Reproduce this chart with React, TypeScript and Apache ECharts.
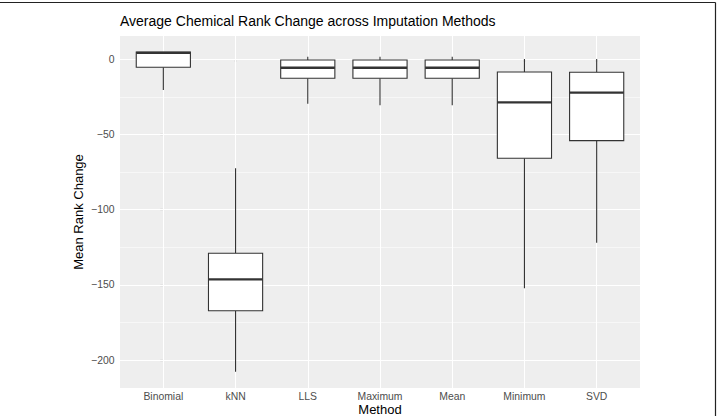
import React, { useEffect, useRef } from "react";
import * as echarts from "echarts";

// Imputation methods along the x axis
const methods = ["Binomial", "kNN", "LLS", "Maximum", "Mean", "Minimum", "SVD"];

// Five-number summaries of the mean rank change per method
const lowerWhisker = [-20.4, -207.8, -29.5, -30.6, -30.6, -152.3, -122.0];
const lowerQuartile = [-5.3, -167.2, -12.6, -12.6, -12.6, -65.8, -54.1];
const medians = [4.3, -146.3, -5.6, -5.6, -5.6, -28.6, -22.2];
const upperQuartile = [4.8, -129.0, -0.5, -0.5, -0.5, -8.4, -8.6];
const upperWhisker = [4.8, -72.5, 1.7, 1.7, 1.7, 0.2, 0.2];

// Axis ticks and grid lines
const yTicks = [-200, -150, -100, -50, 0];
const yMinorGrid = [-175, -125, -75, -25];
const xTicks = methods.map((_, i) => i);

const FONT = "'Liberation Sans', Arial, Helvetica, sans-serif";
const INK = "#333333";

export default function App() {
  const ref = useRef<HTMLDivElement>(null);

  useEffect(() => {
    if (!ref.current) return;
    const chart = echarts.init(ref.current, undefined, { renderer: "svg" });

    const boxData = methods.map((_, i) => [
      i,
      lowerWhisker[i],
      lowerQuartile[i],
      medians[i],
      upperQuartile[i],
      upperWhisker[i],
    ]);

    const gridLines: any[] = [
      ...yTicks.map((v) => ({ yAxis: v, lineStyle: { width: 1.1 } })),
      ...yMinorGrid.map((v) => ({ yAxis: v, lineStyle: { width: 0.55 } })),
      ...xTicks.map((v) => ({ xAxis: v, lineStyle: { width: 1.1 } })),
    ];

    chart.setOption({
      animation: false,
      backgroundColor: "#ffffff",
      textStyle: { fontFamily: FONT },
      grid: {
        left: 120,
        right: 78,
        top: 36,
        bottom: 28,
        show: true,
        backgroundColor: "#EEEEEE",
        borderWidth: 0,
      },
      xAxis: {
        type: "value",
        min: -0.6,
        max: 6.6,
        axisLine: { show: false },
        splitLine: { show: false },
        axisTick: {
          show: true,
          length: 3,
          customValues: xTicks,
          lineStyle: { color: INK, width: 1.1 },
        },
        axisLabel: {
          customValues: xTicks,
          margin: 3.5,
          fontSize: 10.4,
          color: "#4D4D4D",
          fontFamily: FONT,
          formatter: (v: number) => methods[Math.round(v)] ?? "",
        },
      },
      yAxis: {
        type: "value",
        min: -218.6,
        max: 15.5,
        axisLine: { show: false },
        splitLine: { show: false },
        axisTick: {
          show: true,
          length: 3,
          customValues: yTicks,
          lineStyle: { color: INK, width: 1.1 },
        },
        axisLabel: {
          customValues: yTicks,
          margin: 5.5,
          fontSize: 10.4,
          color: "#4D4D4D",
          fontFamily: FONT,
          formatter: (v: number) => String(v).replace("-", "\u2212"),
        },
      },
      series: [
        {
          type: "line",
          data: [],
          z: 1,
          silent: true,
          markLine: {
            z: 1,
            silent: true,
            symbol: "none",
            animation: false,
            label: { show: false },
            emphasis: { disabled: true },
            lineStyle: { color: "#ffffff", type: "solid" },
            data: gridLines,
          },
        },
        {
          type: "custom",
          z: 10,
          data: boxData,
          encode: { x: 0, y: [1, 2, 3, 4, 5] },
          renderItem: (params: any, api: any) => {
            const x = api.value(0);
            const pLow = api.coord([x, api.value(1)]);
            const pQ1 = api.coord([x, api.value(2)]);
            const pMed = api.coord([x, api.value(3)]);
            const pQ3 = api.coord([x, api.value(4)]);
            const pHigh = api.coord([x, api.value(5)]);
            const halfW = api.size([0.75, 0])[0] / 2;
            const stroke = { stroke: INK, lineWidth: 1.1 };
            return {
              type: "group",
              children: [
                {
                  type: "line",
                  shape: { x1: pHigh[0], y1: pHigh[1], x2: pQ3[0], y2: pQ3[1] },
                  style: stroke,
                },
                {
                  type: "line",
                  shape: { x1: pQ1[0], y1: pQ1[1], x2: pLow[0], y2: pLow[1] },
                  style: stroke,
                },
                {
                  type: "rect",
                  shape: {
                    x: pQ3[0] - halfW,
                    y: pQ3[1],
                    width: halfW * 2,
                    height: pQ1[1] - pQ3[1],
                  },
                  style: { fill: "#ffffff", stroke: INK, lineWidth: 1.1 },
                },
                {
                  type: "line",
                  shape: {
                    x1: pMed[0] - halfW,
                    y1: pMed[1],
                    x2: pMed[0] + halfW,
                    y2: pMed[1],
                  },
                  style: { stroke: INK, lineWidth: 2.3 },
                },
              ],
            };
          },
        },
      ],
      graphic: [
        {
          type: "text",
          x: 120,
          y: 21,
          style: {
            text: "Average Chemical Rank Change across Imputation Methods",
            fontSize: 14,
            fontFamily: FONT,
            fill: "#000000",
            align: "left",
            verticalAlign: "middle",
          },
        },
        {
          type: "text",
          x: 78,
          y: 212,
          rotation: Math.PI / 2,
          style: {
            text: "Mean Rank Change",
            fontSize: 13,
            fontFamily: FONT,
            fill: "#000000",
            align: "center",
            verticalAlign: "middle",
          },
        },
        {
          type: "text",
          x: 380,
          y: 409.5,
          style: {
            text: "Method",
            fontSize: 13,
            fontFamily: FONT,
            fill: "#000000",
            align: "center",
            verticalAlign: "middle",
          },
        },
        {
          type: "line",
          shape: { x1: 0, y1: 2.5, x2: 715.5, y2: 2.5 },
          style: { stroke: "#222222", lineWidth: 1.2 },
        },
        {
          type: "line",
          shape: { x1: 715.5, y1: 2.5, x2: 715.5, y2: 416 },
          style: { stroke: "#222222", lineWidth: 1.2 },
        },
      ],
    });

    return () => chart.dispose();
  }, []);

  return (
    <div
      ref={ref}
      style={{ position: "fixed", left: 0, top: 0, width: 718, height: 416 }}
    />
  );
}
